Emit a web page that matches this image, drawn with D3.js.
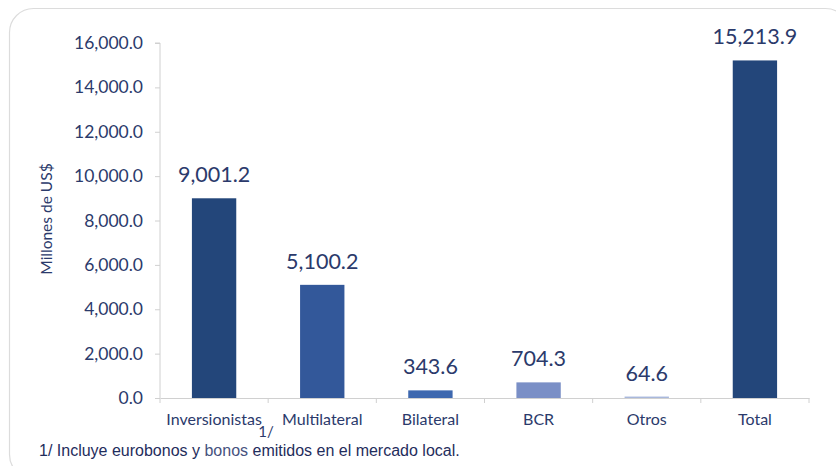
<!DOCTYPE html>
<html><head><meta charset="utf-8">
<script src="https://cdn.jsdelivr.net/npm/d3@7"></script>
<style>body{margin:0;background:#fff;}svg{display:block;}</style>
</head><body>
<script>
const categories = ["Inversionistas", "Multilateral", "Bilateral", "BCR", "Otros", "Total"];
const values = [9001.2, 5100.2, 343.6, 704.3, 64.6, 15213.9];
const colors = ["#23467A", "#33589A", "#3E68AF", "#7A8FC6", "#A9B8DC", "#23467A"];
const yTicks = [0, 2000, 4000, 6000, 8000, 10000, 12000, 14000, 16000];

const W = 836, H = 466;
const svg = d3.select("body").append("svg").attr("width", W).attr("height", H);
const txt = "#2B3A6B";
const font = "Lato, 'Noto Sans', sans-serif";

svg.append("rect").attr("x", 9.5).attr("y", 8.5).attr("width", 840).attr("height", 470)
  .attr("rx", 24).attr("fill", "#fff").attr("stroke", "#DCDCDC").attr("stroke-width", 1.2);

const x0 = 160, x1 = 809, yTop = 43, yBot = 398;
const x = d3.scaleBand().domain(categories).range([x0, x1]).paddingInner(0.59).paddingOuter(0.295);
const y = d3.scaleLinear().domain([0, 16000]).range([yBot, yTop]);

// y axis
const yAxis = svg.append("g").attr("transform", `translate(${x0},0)`)
  .call(d3.axisLeft(y).tickValues(yTicks).tickSize(5).tickPadding(12)
    .tickFormat(d => d3.format(",.1f")(d)));
yAxis.select(".domain").attr("stroke", "#D0D0D0").attr("d", `M-5,${yTop}H0V${yBot}`);
yAxis.selectAll(".tick line").attr("stroke", "#D0D0D0");
yAxis.selectAll(".tick text").attr("fill", txt).attr("font-family", font).attr("font-size", 17.5);

// x axis
const xAxis = svg.append("g").attr("transform", `translate(0,${yBot})`)
  .call(d3.axisBottom(x).tickSize(0).tickPadding(16));
xAxis.select(".domain").attr("stroke", "#D0D0D0");
xAxis.selectAll(".tick text").attr("fill", txt).attr("font-family", font).attr("font-size", 16);
// boundary ticks between bands
const step = x.step();
const bounds = d3.range(categories.length + 1).map(i => x0 + i * step);
xAxis.selectAll(".bnd").data(bounds).enter().append("line")
  .attr("x1", d => d).attr("x2", d => d).attr("y1", 0).attr("y2", 5).attr("stroke", "#D0D0D0");

// bars
svg.selectAll(".bar").data(values).enter().append("rect")
  .attr("x", (d, i) => x(categories[i])).attr("width", x.bandwidth())
  .attr("y", d => y(d)).attr("height", d => yBot - y(d))
  .attr("fill", (d, i) => colors[i]);

// value labels
svg.selectAll(".lbl").data(values).enter().append("text")
  .attr("x", (d, i) => x(categories[i]) + x.bandwidth() / 2)
  .attr("y", d => y(d) - 16)
  .attr("text-anchor", "middle").attr("fill", txt).attr("font-family", font).attr("font-size", 21.5)
  .text(d => d3.format(",.1f")(d));

// y title
svg.append("text").attr("transform", "translate(52,219) rotate(-90)")
  .attr("text-anchor", "middle").attr("fill", txt).attr("font-family", font).attr("font-size", 15.5)
  .text("Millones de US$");

// footnote marker
svg.append("text").attr("x", 266).attr("y", 437).attr("text-anchor", "middle")
  .attr("fill", txt).attr("font-family", font).attr("font-size", 15).text("1/");

const fn = svg.append("text").attr("x", 39).attr("y", 456)
  .attr("font-family", "'Liberation Sans', Arial, sans-serif").attr("font-size", 16).attr("fill", "#1F2D5C");
fn.append("tspan").text("1/ Incluye eurobonos y ");
fn.append("tspan").attr("fill", "#46527E").text("bonos");
fn.append("tspan").text(" emitidos en el mercado local.");
</script>
</body></html>
